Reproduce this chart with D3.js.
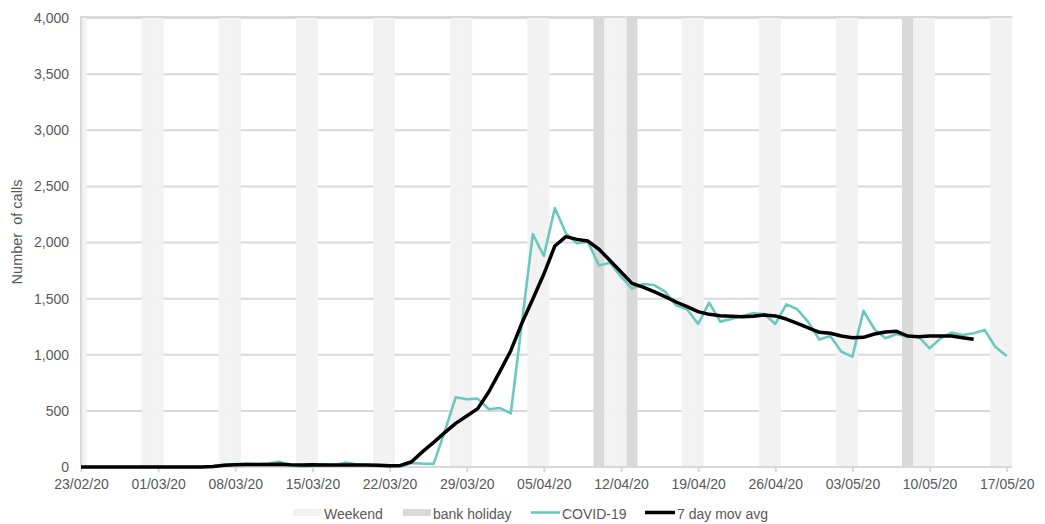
<!DOCTYPE html>
<html><head><meta charset="utf-8">
<script src="https://cdn.jsdelivr.net/npm/d3@7"></script>
<style>
body{margin:0;background:#fff;}
text{font-family:"Liberation Sans",Arial,sans-serif;fill:#595959;}
</style></head>
<body><svg id="c" width="1045" height="524"></svg>
<script>
// ---- data ----
const startDate = "23/02/20";
const endDate = "17/05/20";
const tickLabels = ["23/02/20","01/03/20","08/03/20","15/03/20","22/03/20","29/03/20","05/04/20","12/04/20","19/04/20","26/04/20","03/05/20","10/05/20","17/05/20"];
const bankHolidays = ["10/04/20","13/04/20","08/05/20"];
const covid = [0,0,0,0,0,0,0,0,0,0,0,2,
  8,20,25,28,25,30,47,15,5,10,25,15,40,25,15,10,5,5,35,30,28,
  315,621,603,609,514,526,478,1277,2076,1880,2307,2082,1993,2007,1795,1820,1695,
  1590,1630,1621,1562,1440,1405,1274,1464,1295,1318,1345,1369,1363,1274,1449,1405,
  1290,1135,1167,1027,983,1392,1227,1147,1185,1161,1161,1057,1147,1197,1176,1191,1220,1066,989];
const movAvg = [0,0,0,0,0,0,0,0,0,0,0,0,
  5,15,20,22,22,23,25,20,18,20,18,17,18,18,17,15,12,14,47,137,220,306,389,454,520,
  668,849,1036,1280,1497,1719,1969,2052,2028,2013,1940,1840,1738,1636,1603,1562,1518,
  1470,1428,1384,1360,1348,1343,1339,1343,1354,1346,1318,1280,1240,1200,1192,1167,
  1152,1155,1185,1203,1209,1167,1161,1167,1167,1167,1152,1138];
const yTicks = [0,500,1000,1500,2000,2500,3000,3500,4000];

// ---- chart ----
const parse = d3.timeParse("%d/%m/%y");
const fmt = d3.timeFormat("%d/%m/%y");
const dates = d3.timeDays(parse(startDate), d3.timeDay.offset(parse(endDate), 1));
const svg = d3.select("#c");
const L = 81, R = 1006.7, T = 18, B = 467;
const x = d3.scaleTime().domain([parse(startDate), parse(endDate)]).range([L, R]);
const y = d3.scaleLinear().domain([0, 4000]).range([B, T]);
const dayW = x(dates[1]) - x(dates[0]);
const plotRight = R + dayW / 2;

svg.append("defs").append("clipPath").attr("id","clip")
  .append("rect").attr("x", L).attr("y", 0).attr("width", plotRight - L).attr("height", B + 2);

// gridlines
svg.append("g").selectAll("line").data(yTicks.filter(v => v > 0)).join("line")
  .attr("x1", L).attr("x2", plotRight).attr("y1", d => y(d)).attr("y2", d => y(d))
  .attr("stroke", "#d9d9d9").attr("stroke-width", 2);

// weekend / bank holiday bars
const bhSet = new Set(bankHolidays);
const shaded = dates.filter(d => bhSet.has(fmt(d)) || d.getDay() === 0 || d.getDay() === 6);
svg.append("g").attr("clip-path", "url(#clip)").selectAll("rect").data(shaded).join("rect")
  .attr("x", d => x(d) - dayW / 2).attr("width", dayW)
  .attr("y", y(4000)).attr("height", y(0) - y(4000))
  .attr("fill", d => bhSet.has(fmt(d)) ? "#d9d9d9" : "#f2f2f2");

// top gridline over bars
svg.append("line").attr("x1", L).attr("x2", plotRight).attr("y1", y(4000) - 1).attr("y2", y(4000) - 1)
  .attr("stroke", "#d9d9d9").attr("stroke-width", 2);

// axes lines
svg.append("line").attr("x1", L).attr("x2", L).attr("y1", T - 2).attr("y2", B)
  .attr("stroke", "#d9d9d9").attr("stroke-width", 2);
svg.append("line").attr("x1", L).attr("x2", plotRight).attr("y1", B).attr("y2", B)
  .attr("stroke", "#d9d9d9").attr("stroke-width", 2);

// x axis
const xAxis = d3.axisBottom(x).tickValues(tickLabels.map(parse)).tickFormat(fmt).tickSize(5).tickSizeOuter(0);
const gx = svg.append("g").attr("transform", `translate(0,${B})`).call(xAxis);
gx.select(".domain").remove();
gx.selectAll(".tick line").attr("stroke", "#d9d9d9").attr("stroke-width", 2);
gx.selectAll(".tick text").attr("font-size", 14).attr("y", 12).attr("dy", "0.71em")
  .attr("font-family", "Liberation Sans, Arial, sans-serif").style("fill", "#595959");

// y axis
const yAxis = d3.axisLeft(y).tickValues(yTicks).tickFormat(d3.format(",")).tickSize(0);
const gy = svg.append("g").attr("transform", `translate(${L - 12},0)`).call(yAxis);
gy.select(".domain").remove();
gy.selectAll(".tick text").attr("font-size", 14).attr("x", 0)
  .attr("font-family", "Liberation Sans, Arial, sans-serif").style("fill", "#595959");

// y title
svg.append("text").attr("transform", "translate(22,232) rotate(-90)")
  .attr("text-anchor", "middle").attr("font-size", 14.5).attr("xml:space", "preserve")
  .style("white-space", "pre").text("Number  of calls");

// lines
const line = d3.line().x((d, i) => x(dates[i])).y(d => y(d));
svg.append("path").datum(covid).attr("d", line).attr("fill", "none")
  .attr("stroke", "#6cc8be").attr("stroke-width", 2.6).attr("stroke-linejoin", "round");
svg.append("path").datum(movAvg).attr("d", line).attr("fill", "none")
  .attr("stroke", "#000").attr("stroke-width", 3.5).attr("stroke-linejoin", "round");

// legend
const lg = svg.append("g");
const ly = 512.5;
lg.append("rect").attr("x", 293).attr("y", ly - 3.5).attr("width", 28).attr("height", 7).attr("fill", "#f2f2f2");
lg.append("text").attr("x", 324).attr("y", 519).attr("font-size", 14).text("Weekend");
lg.append("rect").attr("x", 403).attr("y", ly - 3.5).attr("width", 28).attr("height", 7).attr("fill", "#d9d9d9");
lg.append("text").attr("x", 433).attr("y", 519).attr("font-size", 14).text("bank holiday");
lg.append("line").attr("x1", 531).attr("x2", 560).attr("y1", ly).attr("y2", ly).attr("stroke", "#6cc8be").attr("stroke-width", 2.6);
lg.append("text").attr("x", 562).attr("y", 519).attr("font-size", 14).text("COVID-19");
lg.append("line").attr("x1", 645).attr("x2", 675).attr("y1", ly).attr("y2", ly).attr("stroke", "#000").attr("stroke-width", 3.5);
lg.append("text").attr("x", 677).attr("y", 519).attr("font-size", 14).text("7 day mov avg");
</script></body></html>
